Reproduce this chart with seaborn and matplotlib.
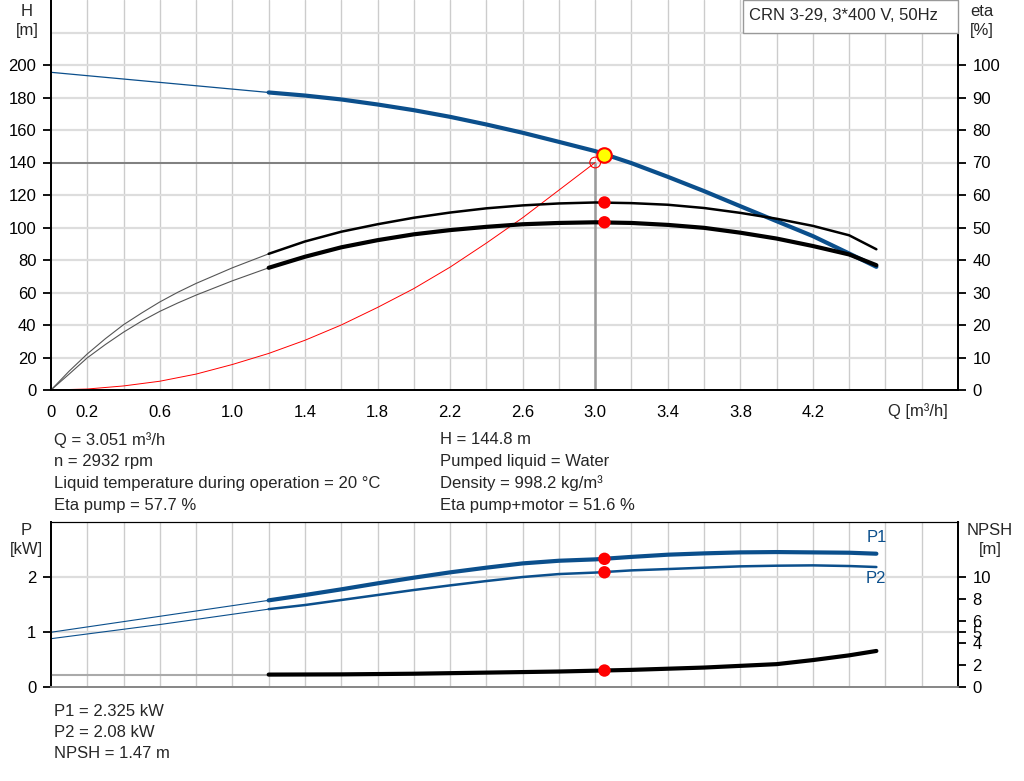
import numpy as np
import seaborn as sns
import matplotlib.pyplot as plt
from matplotlib.patches import Rectangle
from matplotlib.ticker import FixedLocator

# ---- curve data ----
# pump head H [m] vs flow Q [m3/h]
q_head = [0.0, 0.6, 1.2, 1.4, 1.6, 1.8, 2.0, 2.2, 2.4, 2.6, 2.8, 3.0, 3.2, 3.4, 3.6, 3.8, 4.0, 4.2, 4.4, 4.55]
head = [195.5, 189.3, 183.1, 181.2, 178.8, 175.7, 172.2, 168.1, 163.4, 158.3, 152.7, 147.0, 139.6, 131.2,
        122.4, 113.1, 103.9, 94.7, 84.0, 75.8]

# efficiencies [%]
q_eta = [0.0, 0.1, 0.2, 0.3, 0.4, 0.5, 0.6, 0.7, 0.8, 1.0, 1.2, 1.4, 1.6, 1.8, 2.0, 2.2, 2.4, 2.6, 2.8, 3.0,
         3.2, 3.4, 3.6, 3.8, 4.0, 4.2, 4.4, 4.55]
eta_pump = [0.0, 5.8, 11.1, 15.8, 20.1, 23.7, 27.1, 30.1, 32.8, 37.6, 41.9, 45.7, 48.7, 51.0, 53.0, 54.6,
            55.9, 56.8, 57.4, 57.7, 57.5, 57.0, 56.0, 54.5, 52.7, 50.5, 47.6, 43.3]
eta_total = [0.0, 4.9, 9.9, 14.0, 17.8, 21.2, 24.2, 26.8, 29.2, 33.6, 37.6, 41.0, 43.9, 46.1, 47.9, 49.2,
             50.2, 51.0, 51.4, 51.6, 51.4, 50.8, 49.9, 48.4, 46.6, 44.3, 41.7, 38.4]

# system curve [m]
q_sys = [0.0, 0.2, 0.4, 0.6, 0.8, 1.0, 1.2, 1.4, 1.6, 1.8, 2.0, 2.2, 2.4, 2.6, 2.8, 3.0]
h_sys = [0.0, 0.6, 2.5, 5.4, 9.8, 15.7, 22.5, 30.6, 40.0, 50.8, 62.4, 75.6, 90.4, 106.0, 123.0, 140.0]

# power [kW]
q_pow = [0.0, 0.6, 1.2, 1.4, 1.6, 1.8, 2.0, 2.2, 2.4, 2.6, 2.8, 3.0, 3.2, 3.4, 3.6, 3.8, 4.0, 4.2, 4.4, 4.55]
p1 = [0.99, 1.28, 1.57, 1.667, 1.77, 1.879, 1.982, 2.079, 2.164, 2.242, 2.29, 2.315, 2.36, 2.40, 2.424,
      2.442, 2.448, 2.442, 2.436, 2.418]
p2 = [0.873, 1.13, 1.41, 1.485, 1.576, 1.667, 1.758, 1.842, 1.921, 1.994, 2.048, 2.075, 2.115, 2.139,
      2.164, 2.188, 2.2, 2.206, 2.194, 2.176]

# NPSH [m]
q_npsh = [0.0, 1.2, 1.6, 2.0, 2.4, 2.8, 3.2, 3.6, 4.0, 4.2, 4.4, 4.55]
npsh = [1.1, 1.1, 1.12, 1.18, 1.28, 1.38, 1.53, 1.74, 2.05, 2.42, 2.85, 3.25]

# duty point
q_op, h_op = 3.051, 144.8
eta_pump_op, eta_total_op = 57.7, 51.6
p1_op, p2_op, npsh_op = 2.325, 2.08, 1.47
q_req, h_req = 3.0, 140.0
q_min = 1.2  # curves are drawn thin below this flow

# ticks
x_ticks = [0.0, 0.2, 0.4, 0.6, 0.8, 1.0, 1.2, 1.4, 1.6, 1.8, 2.0, 2.2, 2.4, 2.6, 2.8, 3.0, 3.2, 3.4,
           3.6, 3.8, 4.0, 4.2, 4.4, 4.6, 4.8]
x_tick_labels = ["0", "0.2", "", "0.6", "", "1.0", "", "1.4", "", "1.8", "", "2.2", "", "2.6", "",
                 "3.0", "", "3.4", "", "3.8", "", "4.2", "", "", ""]
h_ticks = [0, 20, 40, 60, 80, 100, 120, 140, 160, 180, 200]
eta_ticks = [0, 10, 20, 30, 40, 50, 60, 70, 80, 90, 100]
p_ticks = [0, 1, 2]
npsh_ticks = [0, 2, 4, 5, 6, 8, 10]

title_box = "CRN 3-29, 3*400 V, 50Hz"
info_left = ["Q = 3.051 m³/h", "n = 2932 rpm", "Liquid temperature during operation = 20 °C",
             "Eta pump = 57.7 %"]
info_right = ["H = 144.8 m", "Pumped liquid = Water", "Density = 998.2 kg/m³",
              "Eta pump+motor = 51.6 %"]
info_power = ["P1 = 2.325 kW", "P2 = 2.08 kW", "NPSH = 1.47 m"]

# ---- style ----
sns.set_theme(style="white")
plt.rcParams['font.family'] = ['Liberation Sans', 'DejaVu Sans']
plt.rcParams['font.size'] = 12
BLUE = '#0b4f8c'
FS = 12
W, H = 1024, 781


def fpos(x, y):
    return x / W, 1 - y / H


def split(q, v):
    q = np.asarray(q)
    v = np.asarray(v)
    lo, hi = q <= q_min, q >= q_min
    return (q[lo], v[lo]), (q[hi], v[hi])


def line(ax, q, v, color, lw_thin, lw_thick, thin_color=None):
    (ql, vl), (qh, vh) = split(q, v)
    sns.lineplot(x=ql, y=vl, ax=ax, color=thin_color or color, linewidth=lw_thin, estimator=None, sort=False)
    sns.lineplot(x=qh, y=vh, ax=ax, color=color, linewidth=lw_thick, estimator=None, sort=False)


def style_axis(ax):
    ax.tick_params(axis='both', which='both', direction='out', length=6, width=1.3, pad=4.5,
                   labelsize=FS, colors='black')
    for s in ax.spines.values():
        s.set_linewidth(1.3)
        s.set_color('black')


fig = plt.figure(figsize=(W / 100, H / 100), dpi=100)

# ================= top: head / efficiency =================
ax = fig.add_axes([51 / W, 1 - 390 / H, 907 / W, 390 / H])
ax.set_xlim(0, 5.0)
ax.set_ylim(0, 240)
ax.set_axisbelow(True)
for xv in np.arange(0.2, 5.0, 0.2):
    ax.axvline(xv, color='#cccccc', lw=1.0, zorder=0)
for yv in range(20, 240, 20):
    ax.axhline(yv, color='#dddddd', lw=1.6, zorder=0)

ax.plot([0, q_req], [h_req, h_req], color='#666666', lw=1.1, zorder=1)
ax.plot([q_req, q_req], [0, h_req], color='#9a9a9a', lw=1.8, zorder=1)

sns.lineplot(x=q_sys, y=h_sys, ax=ax, color='red', linewidth=0.7, estimator=None, sort=False)
line(ax, q_head, head, BLUE, 0.9, 3.0)

ax.xaxis.set_major_locator(FixedLocator(x_ticks))
ax.set_xticklabels(x_tick_labels)
ax.set_yticks(h_ticks)
ax.set_xlabel("")
ax.set_ylabel("")
style_axis(ax)
ax.spines['top'].set_visible(False)
ax.annotate("Q [m³/h]", xy=(4.78, 0), xycoords=('data', 'axes fraction'), xytext=(0, -9.5),
            textcoords='offset points', ha='center', va='top', fontsize=FS)

ax2 = ax.twinx()
ax2.set_ylim(0, 120)
line(ax2, q_eta, eta_pump, 'black', 0.8, 1.8, thin_color='#555555')
line(ax2, q_eta, eta_total, 'black', 0.8, 3.0, thin_color='#555555')
ax2.set_yticks(eta_ticks)
ax2.set_ylabel("")
style_axis(ax2)
ax2.spines['top'].set_visible(False)

# duty point markers
sns.scatterplot(x=[q_req], y=[h_req / 2], ax=ax2, s=60, facecolor='none', edgecolor='red', linewidth=0.8,
                zorder=5)
sns.scatterplot(x=[q_op, q_op], y=[eta_pump_op, eta_total_op], ax=ax2, s=80, color='red', edgecolor='none',
                zorder=6)
sns.scatterplot(x=[q_op], y=[h_op / 2], ax=ax2, s=110, color='#ffff00', edgecolor='red', linewidth=1.5,
                zorder=7)

fig.text(*fpos(27, 4), "H\n[m]", ha='center', va='top', fontsize=FS, linespacing=1.3)
fig.text(*fpos(982, 4), "eta\n[%]", ha='center', va='top', fontsize=FS, linespacing=1.3)

# model box
fig.patches.append(Rectangle(fpos(743, 33), 215 / W, 33 / H, transform=fig.transFigure,
                             facecolor='white', edgecolor='#999999', lw=1.0, zorder=10))
fig.text(*fpos(749, 15), title_box, ha='left', va='center', fontsize=FS, zorder=11)

# ================= info text =================
for i, (a, b) in enumerate(zip(info_left, info_right)):
    fig.text(*fpos(54, 440 + 21.7 * i), a, ha='left', va='center', fontsize=FS)
    fig.text(*fpos(440, 440 + 21.7 * i), b, ha='left', va='center', fontsize=FS)

# ================= bottom: power / NPSH =================
bx = fig.add_axes([51 / W, 1 - 686.7 / H, 907 / W, 165 / H])
bx.set_xlim(0, 5.0)
bx.set_ylim(0, 3.0)
bx.set_axisbelow(True)
for xv in np.arange(0.2, 5.0, 0.2):
    bx.axvline(xv, color='#cccccc', lw=1.0, zorder=0)
for yv in p_ticks[1:]:
    bx.axhline(yv, color='#dddddd', lw=1.6, zorder=0)

line(bx, q_pow, p1, BLUE, 0.8, 3.0)
line(bx, q_pow, p2, BLUE, 0.8, 1.8)
bx.set_yticks(p_ticks)
bx.set_xticks([])
bx.set_xlabel("")
bx.set_ylabel("")
style_axis(bx)
bx.spines['bottom'].set_color('#888888')
bx.spines['top'].set_linewidth(0.8)
bx.text(4.55, 2.72, "P1", color=BLUE, fontsize=FS, ha='center', va='center')
bx.text(4.55, 1.97, "P2", color=BLUE, fontsize=FS, ha='center', va='center')

bx2 = bx.twinx()
bx2.set_ylim(0, 15)
line(bx2, q_npsh, npsh, 'black', 1.5, 3.0, thin_color='#aaaaaa')
bx2.set_yticks(npsh_ticks)
bx2.set_ylabel("")
style_axis(bx2)
bx2.spines['bottom'].set_color('#888888')
bx2.spines['top'].set_linewidth(0.8)

sns.scatterplot(x=[q_op, q_op], y=[p1_op * 5, p2_op * 5], ax=bx2, s=80, color='red', edgecolor='none',
                zorder=6)
sns.scatterplot(x=[q_op], y=[npsh_op], ax=bx2, s=80, color='red', edgecolor='none', zorder=6)

fig.text(*fpos(26, 523), "P\n[kW]", ha='center', va='top', fontsize=FS, linespacing=1.3)
fig.text(*fpos(990, 523), "NPSH\n[m]", ha='center', va='top', fontsize=FS, linespacing=1.3)

for i, t in enumerate(info_power):
    fig.text(*fpos(54, 711 + 21.5 * i), t, ha='left', va='center', fontsize=FS)

fig.savefig("out.png", dpi=100, facecolor='white')
